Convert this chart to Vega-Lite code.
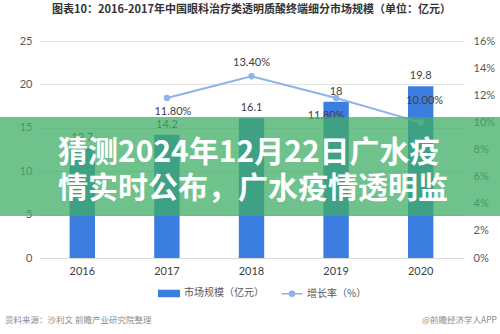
{
  "$schema": "https://vega.github.io/schema/vega-lite/v6.json",
  "width": 423,
  "height": 217,
  "autosize": {"type": "none"},
  "padding": {"left": 40, "top": 41, "right": 37, "bottom": 76},
  "background": "white",
  "title": {
    "text": "图表10：2016-2017年中国眼科治疗类透明质酸终端细分市场规模（单位：亿元）",
    "font": "Noto Sans CJK SC",
    "fontSize": 11,
    "fontWeight": "bold",
    "color": "#333333",
    "anchor": "middle",
    "frame": "group",
    "offset": 20
  },
  "config": {
    "view": {"stroke": null},
    "axis": {"labelFont": "Lato", "labelFontSize": 11, "labelColor": "#595959"}
  },
  "datasets": {
    "main": [
      {"year": "2016", "size": 12.7, "growth": null},
      {"year": "2017", "size": 14.2, "growth": 11.8},
      {"year": "2018", "size": 16.1, "growth": 13.4},
      {"year": "2019", "size": 18, "growth": 11.8},
      {"year": "2020", "size": 19.8, "growth": 10.0}
    ]
  },
  "layer": [
    {
      "data": {"name": "main"},
      "encoding": {
        "x": {
          "field": "year",
          "type": "nominal",
          "scale": {"paddingInner": 0, "paddingOuter": 0},
          "axis": {"title": null, "labelAngle": 0, "domain": true, "domainColor": "#d9d9d9", "ticks": false, "labelPadding": 7, "labelColor": "#404040"}
        },
        "y": {
          "field": "size",
          "type": "quantitative",
          "scale": {"domain": [0, 25]},
          "axis": {"title": null, "values": [0, 5, 10, 15, 20, 25], "grid": true, "gridColor": "#e3e3e3", "domain": false, "ticks": false, "labelPadding": 8}
        }
      },
      "layer": [
        {
          "mark": {"type": "bar", "width": {"band": 0.3}},
          "encoding": {
            "color": {
              "datum": "市场规模（亿元）",
              "type": "nominal",
              "scale": {"domain": ["市场规模（亿元）", "增长率（%）"], "range": ["#3c7ee0", "#8eb2ea"]},
              "legend": {
                "orient": "none",
                "legendX": 118,
                "legendY": 241,
                "direction": "horizontal",
                "title": null,
                "symbolSize": 420,
                "labelFont": "Noto Sans CJK SC",
                "labelFontSize": 10,
                "labelColor": "#595959",
                "columnPadding": 14,
                "labelOffset": 4,
                "padding": 0,
                "encode": {
                  "symbols": {
                    "update": {
                      "shape": {"signal": "datum.value === '市场规模（亿元）' ? 'M-1,-0.3H1V0.3H-1Z' : 'M-1,0H1M0.25,0A0.25,0.25 0 1 1 -0.25,0A0.25,0.25 0 1 1 0.25,0'"},
                      "fill": {"signal": "datum.value === '市场规模（亿元）' ? '#3c7ee0' : '#8eb2ea'"},
                      "stroke": {"signal": "datum.value === '市场规模（亿元）' ? '#3c7ee0' : '#8eb2ea'"},
                      "strokeWidth": {"value": 1.5},
                      "opacity": {"value": 1}
                    }
                  }
                }
              }
            }
          }
        },
        {
          "mark": {"type": "text", "dy": -10, "font": "Lato", "fontSize": 11, "color": "#404040"},
          "encoding": {
            "text": {"field": "size", "type": "quantitative", "format": ".1~f"}
          }
        }
      ]
    },
    {
      "data": {"name": "main"},
      "transform": [
        {"filter": "datum.growth != null"},
        {"calculate": "format(datum.growth, '.2f') + '%'", "as": "label"}
      ],
      "encoding": {
        "x": {"field": "year", "type": "nominal"},
        "y": {
          "field": "growth",
          "type": "quantitative",
          "scale": {"domain": [0, 16]},
          "axis": {"orient": "right", "title": null, "values": [0, 2, 4, 6, 8, 10, 12, 14, 16], "labelExpr": "datum.value + '%'", "grid": false, "domain": false, "ticks": false, "labelPadding": 10}
        }
      },
      "layer": [
        {
          "mark": {"type": "line", "strokeWidth": 2, "point": {"filled": true, "size": 40}},
          "encoding": {"color": {"datum": "增长率（%）", "type": "nominal"}}
        },
        {
          "transform": [{"filter": "datum.year == '2017'"}],
          "mark": {"type": "text", "dx": 6, "dy": 14, "font": "Lato", "fontSize": 11, "color": "#404040"},
          "encoding": {"text": {"field": "label", "type": "nominal"}}
        },
        {
          "transform": [{"filter": "datum.year == '2018'"}],
          "mark": {"type": "text", "dx": 0, "dy": -13, "font": "Lato", "fontSize": 11, "color": "#404040"},
          "encoding": {"text": {"field": "label", "type": "nominal"}}
        },
        {
          "transform": [{"filter": "datum.year == '2019'"}],
          "mark": {"type": "text", "dx": -10, "dy": 18, "font": "Lato", "fontSize": 11, "color": "#404040"},
          "encoding": {"text": {"field": "label", "type": "nominal"}}
        },
        {
          "transform": [{"filter": "datum.year == '2020'"}],
          "mark": {"type": "text", "dx": 4, "dy": -21, "font": "Lato", "fontSize": 11, "color": "#404040"},
          "encoding": {"text": {"field": "label", "type": "nominal"}}
        }
      ]
    },
    {
      "data": {"values": [{"t": "猜测2024年12月22日广水疫\n情实时公布，广水疫情透明监"}]},
      "layer": [
        {
          "mark": {"type": "rect", "color": "#3fae66", "opacity": 0.75},
          "encoding": {"x": {"value": -40}, "x2": {"value": 460}, "y": {"value": 76}, "y2": {"value": 175}}
        },
        {
          "mark": {"type": "text", "lineBreak": "\n", "align": "left", "baseline": "alphabetic", "font": "Noto Sans CJK SC", "fontWeight": "bold", "fontSize": 30, "color": "white", "lineHeight": 36},
          "encoding": {"text": {"field": "t", "type": "nominal"}, "x": {"value": 18}, "y": {"value": 121}}
        }
      ]
    },
    {
      "data": {"values": [{"t": "资料来源：沙利文 前瞻产业研究院整理"}]},
      "mark": {"type": "text", "align": "left", "baseline": "middle", "font": "Noto Sans CJK SC", "fontSize": 8.5, "color": "#8c8c8c"},
      "encoding": {"text": {"field": "t", "type": "nominal"}, "x": {"value": -35}, "y": {"value": 279}}
    },
    {
      "data": {"values": [{"t": "@前瞻经济学人APP"}]},
      "mark": {"type": "text", "align": "right", "baseline": "middle", "font": "Noto Sans CJK SC", "fontSize": 8.5, "color": "#8c8c8c"},
      "encoding": {"text": {"field": "t", "type": "nominal"}, "x": {"value": 457}, "y": {"value": 279}}
    }
  ],
  "resolve": {"scale": {"y": "independent"}}
}
